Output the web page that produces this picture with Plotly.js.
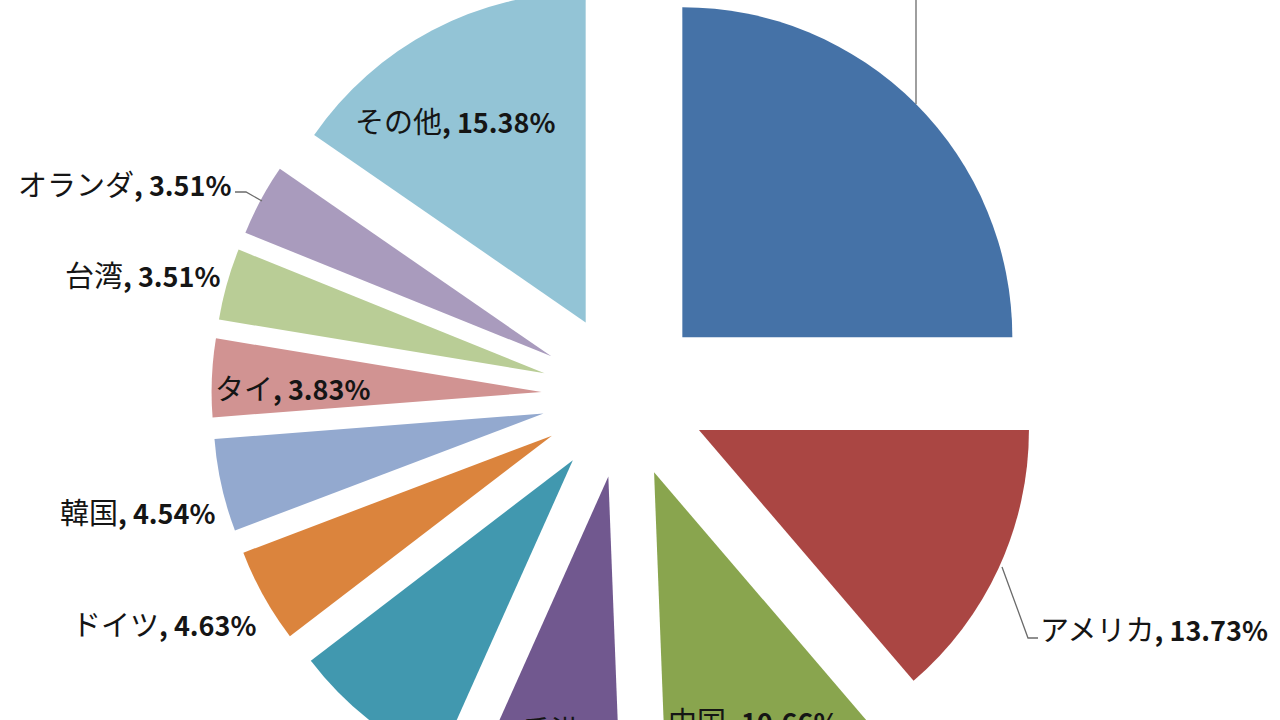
<!DOCTYPE html>
<html>
<head>
<meta charset="utf-8">
<script src="https://cdn.plot.ly/plotly-3.0.1.min.js"></script>
<style>
  html, body { margin: 0; padding: 0; width: 1280px; height: 720px; overflow: hidden; background: #fff; }
  #chart { position: absolute; left: 0; top: -17px; width: 1280px; height: 825px; }
</style>
</head>
<body>
<div id="chart"></div>
<script>
// ---- data ----
const labels = ["日本", "アメリカ", "中国", "香港", "シンガポール", "ドイツ", "韓国", "タイ", "台湾", "オランダ", "その他"];
const values = [25.00, 13.73, 10.66, 7.30, 7.91, 4.63, 4.54, 3.83, 3.51, 3.51, 15.38];
const valueText = ["25.00%", "13.73%", "10.66%", "7.30%", "7.91%", "4.63%", "4.54%", "3.83%", "3.51%", "3.51%", "15.38%"];

// ---- styles / layout helpers ----
const colors = ["#4572A7", "#AA4643", "#89A54E", "#71588F", "#4198AF", "#DB843D", "#93A9CF", "#D19392", "#B9CD96", "#A99BBD", "#93C4D6"];
const divTop = -17, divW = 1280, divH = 825;
// label anchor points in window pixels [x, y, xanchor]
const labelPos = [
  [916, -110, "center"], [1038, 628, "left"], [666, 720, "left"], [520, 729, "left"], [380, 780, "left"],
  [259, 623, "right"], [218, 511, "right"], [213, 387, "left"], [223, 274, "right"], [234, 183, "right"], [353, 120, "left"]
];
const leaderLines = [
  [[916, 104], [916, -60]],
  [[1002, 567], [1028, 638], [1038, 638]],
  [[235, 192], [246, 192], [262, 201]]
];
const px = x => x / divW;
const py = y => 1 - (y - divTop) / divH;

const annotations = labels.map((l, i) => ({
  xref: "paper", yref: "paper",
  x: px(labelPos[i][0]), y: py(labelPos[i][1]),
  xanchor: labelPos[i][2], yanchor: "middle",
  showarrow: false,
  text: '<span style="font-size:29px">' + l + '</span><b>, ' + valueText[i] + '</b>',
  font: { family: "Noto Sans CJK JP", size: 27, color: "#151515" }
}));

const shapes = leaderLines.map(pts => ({
  type: "path", xref: "paper", yref: "paper",
  path: pts.map((p, j) => (j ? "L" : "M") + px(p[0]) + "," + py(p[1])).join(" "),
  line: { color: "#6b6b6b", width: 1.3 }
}));

const trace = {
  type: "pie",
  labels: labels,
  values: values,
  sort: false,
  direction: "clockwise",
  rotation: 0,
  pull: labels.map(() => 0.25),
  marker: { colors: colors, line: { width: 0 } },
  textinfo: "none",
  hoverinfo: "none",
  domain: { x: [0, 2 * 624 / 1280], y: [0, 1] }
};

Plotly.newPlot("chart", [trace], {
  width: divW, height: divH,
  margin: { l: 0, r: 0, t: 0, b: 0 },
  showlegend: false,
  paper_bgcolor: "#fff",
  annotations: annotations,
  shapes: shapes
}, { staticPlot: true });
</script>
</body>
</html>
